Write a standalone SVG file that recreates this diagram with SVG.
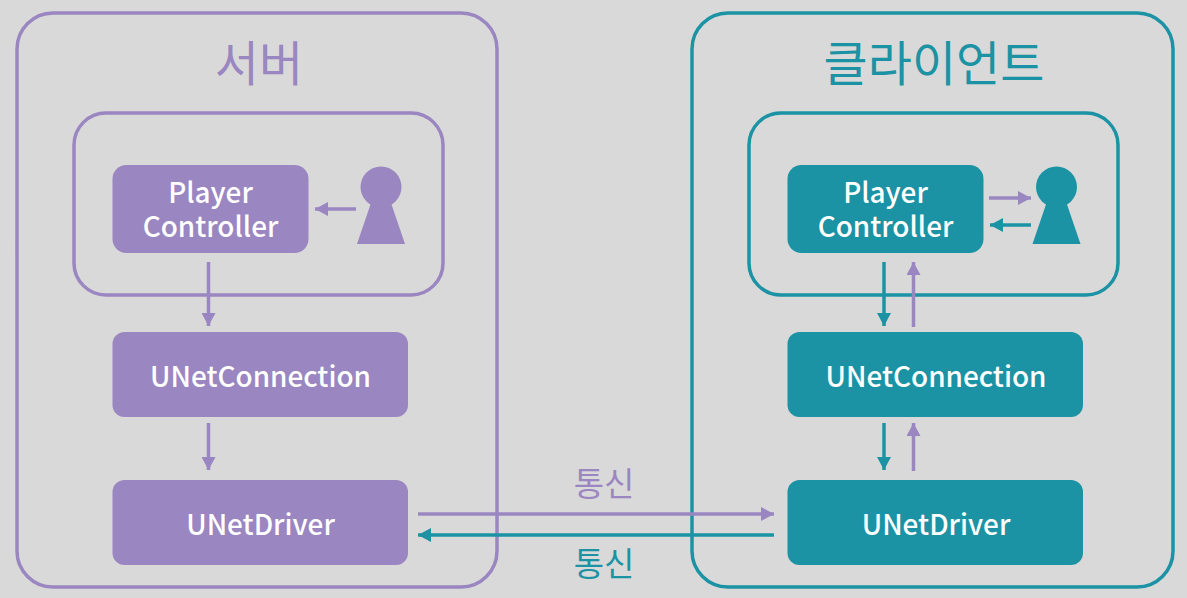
<svg xmlns="http://www.w3.org/2000/svg" width="1187" height="598" viewBox="0 0 1187 598">
<defs>
<marker id="ap" markerUnits="userSpaceOnUse" markerWidth="15" markerHeight="14" refX="13" refY="7" orient="auto"><path d="M0 0L13 7L0 14Z" fill="#9a86c0"/></marker>
<marker id="at" markerUnits="userSpaceOnUse" markerWidth="15" markerHeight="14" refX="13" refY="7" orient="auto"><path d="M0 0L13 7L0 14Z" fill="#1b93a4"/></marker>
</defs>
<style>
text{text-anchor:middle;font-family:"Noto Sans CJK KR","Noto Sans",sans-serif}
.lbl{fill:#fff;font-size:27.9px;font-weight:500}
.fp{fill:#9a86c0}.ft{fill:#1b93a4}
.op{fill:none;stroke:#9a86c0;stroke-width:3.5}.ot{fill:none;stroke:#1b93a4;stroke-width:3.5}
.cp{fill:none;stroke:#9a86c0;stroke-width:3.5;marker-end:url(#ap)}.ct{fill:none;stroke:#1b93a4;stroke-width:3.5;marker-end:url(#at)}
.h{font-size:48px;font-weight:400}
.c{font-size:33px;font-weight:400}
</style>
<rect width="1187" height="598" fill="#d9d9d9"/>
<g id="server"><rect class="op" x="17" y="13" width="480" height="574" rx="36"/><text class="h fp" x="259" y="81">서버</text></g>
<g id="client"><rect class="ot" x="692" y="13" width="481" height="574" rx="36"/><text class="h ft" x="934" y="81">클라이언트</text></g>
<g id="server-controller-box"><rect class="op" x="74" y="113" width="369" height="182" rx="32"/></g>
<g id="client-controller-box"><rect class="ot" x="749" y="113" width="369" height="182" rx="32"/></g>
<g id="server-pc"><rect class="fp" x="112.500" y="165" width="196" height="88" rx="14"/><text class="lbl"><tspan x="210.500" y="203">Player</tspan><tspan x="210.500" y="237">Controller</tspan></text></g>
<g id="client-pc"><rect class="ft" x="787.500" y="165" width="196" height="88" rx="14"/><text class="lbl"><tspan x="885.500" y="203">Player</tspan><tspan x="885.500" y="237">Controller</tspan></text></g>
<g id="server-conn"><rect class="fp" x="112.500" y="332" width="295.500" height="85" rx="12"/><text class="lbl" x="260.500" y="387">UNetConnection</text></g>
<g id="client-conn"><rect class="ft" x="787.500" y="332" width="295.500" height="85" rx="12"/><text class="lbl" x="936" y="387">UNetConnection</text></g>
<g id="server-driver"><rect class="fp" x="112.500" y="480" width="295.500" height="85" rx="12"/><text class="lbl" x="260.500" y="534.500">UNetDriver</text></g>
<g id="client-driver"><rect class="ft" x="787.500" y="480" width="295.500" height="85" rx="12"/><text class="lbl" x="936" y="534.500">UNetDriver</text></g>
<g id="server-player"><circle class="fp" cx="381" cy="187" r="20.5"/><path class="fp" d="M372 200H390L405 244H357Z"/></g>
<g id="client-player"><circle class="ft" cx="1056.500" cy="187" r="20.5"/><path class="ft" d="M1047.500 200H1065.500L1080.500 244H1032.500Z"/></g>
<g id="label-up"><text class="c fp" x="604" y="496">통신</text></g>
<g id="label-down"><text class="c ft" x="604" y="576">통신</text></g>
<g id="connectors">
<path class="cp" d="M356 209H315"/>
<path class="cp" d="M208.500 262V326"/>
<path class="cp" d="M208.500 423V470"/>
<path class="cp" d="M989 198H1031"/>
<path class="ct" d="M1031 225H990"/>
<path class="ct" d="M884 262V326"/>
<path class="cp" d="M913.500 327V262"/>
<path class="ct" d="M884 423V470"/>
<path class="cp" d="M913.500 471V423"/>
<path class="cp" d="M418 514H774"/>
<path class="ct" d="M774 535H418"/>
</g>
</svg>
